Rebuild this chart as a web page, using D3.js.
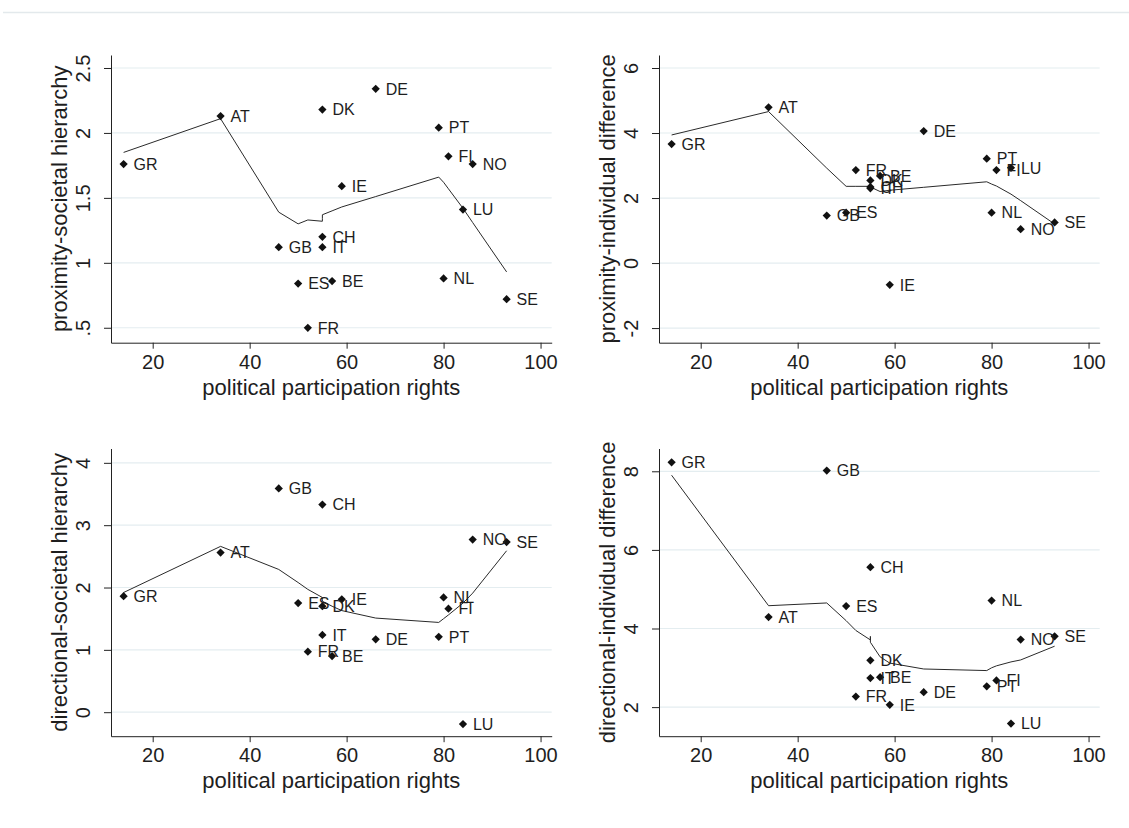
<!DOCTYPE html>
<html>
<head>
<meta charset="utf-8">
<script src="https://cdn.jsdelivr.net/npm/d3@7"></script>
<style>
  body { margin: 0; background: #fff; }
  svg text { font-family: "Liberation Sans", Arial, sans-serif; fill: #1e1e1e; }
</style>
</head>
<body>
<div id="chart"></div>
<script>
// countries, sorted by political participation rights
var countries = ['GR','AT','GB','ES','FR','CH','IT','DK','BE','IE','DE','PT','NL','FI','LU','NO','SE'];
var participation = [14, 34, 46, 50, 52, 55, 55, 55, 57, 59, 66, 79, 80, 81, 84, 86, 93];

var proxSocietal   = [1.76, 2.13, 1.12, 0.84, 0.50, 1.20, 1.12, 2.18, 0.86, 1.59, 2.34, 2.04, 0.88, 1.82, 1.41, 1.76, 0.72];
var proxIndividual = [3.66, 4.79, 1.46, 1.55, 2.86, 2.34, 2.30, 2.54, 2.68, -0.67, 4.06, 3.21, 1.55, 2.86, 2.93, 1.04, 1.25];
var dirSocietal    = [1.86, 2.56, 3.59, 1.75, 0.97, 3.33, 1.24, 1.70, 0.90, 1.81, 1.17, 1.21, 1.84, 1.66, -0.19, 2.77, 2.73];
var dirIndividual  = [8.23, 4.29, 8.02, 4.57, 2.27, 5.56, 2.74, 3.19, 2.76, 2.06, 2.38, 2.53, 4.71, 2.68, 1.58, 3.72, 3.80];

// lowess smooths, same order as participation
var proxSocietalFit   = [1.85, 2.11, 1.39, 1.30, 1.33, 1.32, 1.34, 1.37, 1.40, 1.43, 1.51, 1.66, 1.62, 1.57, 1.42, 1.31, 0.93];
var proxIndividualFit = [3.94, 4.66, 2.92, 2.36, 2.36, 2.36, 2.35, 2.34, 2.20, 2.24, 2.33, 2.50, 2.43, 2.37, 2.12, 1.92, 1.20];
var dirSocietalFit    = [1.92, 2.66, 2.29, 2.08, 1.97, 1.84, 1.81, 1.78, 1.70, 1.63, 1.51, 1.44, 1.50, 1.56, 1.75, 1.91, 2.59];
var dirIndividualFit  = [7.90, 4.58, 4.65, 4.20, 3.95, 3.71, 3.80, 3.65, 3.28, 3.12, 2.97, 2.93, 3.00, 3.05, 3.15, 3.20, 3.55];

var xTicks = [20, 40, 60, 80, 100];
var yTicksPS = [0.5, 1, 1.5, 2, 2.5];
var yTicksPI = [-2, 0, 2, 4, 6];
var yTicksDS = [0, 1, 2, 3, 4];
var yTicksDI = [2, 4, 6, 8];

var xTitle = 'political participation rights';

var panels = [
  { vals: proxSocietal,   fit: proxSocietalFit,   ticks: yTicksPS, title: 'proximity-societal hierarchy',      dom: [0.385, 2.60], col: 0, row: 0 },
  { vals: proxIndividual, fit: proxIndividualFit, ticks: yTicksPI, title: 'proximity-individual difference',   dom: [-2.45, 6.40], col: 1, row: 0 },
  { vals: dirSocietal,    fit: dirSocietalFit,    ticks: yTicksDS, title: 'directional-societal hierarchy',    dom: [-0.385, 4.23], col: 0, row: 1 },
  { vals: dirIndividual,  fit: dirIndividualFit,  ticks: yTicksDI, title: 'directional-individual difference', dom: [1.26, 8.58], col: 1, row: 1 }
];

var W = 1129, H = 828;
var plotW = 440.7, plotH = 287.7;
var left0 = 111, colStep = 548, top0 = 55, rowStep = 393.5;

var fmt = function(d) { return String(d).replace(/^0\./, '.'); };

var svg = d3.select('#chart').append('svg')
  .attr('width', W)
  .attr('height', H);

// faint frame line at the top
svg.append('line')
  .attr('x1', 3).attr('x2', W)
  .attr('y1', 12.5).attr('y2', 12.5)
  .attr('stroke', '#e3e9ec')
  .attr('stroke-width', 1.5);

panels.forEach(function(p) {
  var x0 = left0 + p.col * colStep;
  var y0 = top0 + p.row * rowStep;

  var x = d3.scaleLinear().domain([11.4, 102.3]).range([x0, x0 + plotW]);
  var y = d3.scaleLinear().domain(p.dom).range([y0 + plotH, y0]);

  var g = svg.append('g');

  // gridlines
  g.selectAll('.grid')
    .data(p.ticks)
    .enter().append('line')
    .attr('x1', x0).attr('x2', x0 + plotW)
    .attr('y1', function(d) { return y(d); })
    .attr('y2', function(d) { return y(d); })
    .attr('stroke', '#e4edf0')
    .attr('stroke-width', 1.2);

  // x axis
  var xa = g.append('g')
    .attr('transform', 'translate(0,' + (y0 + plotH) + ')')
    .call(d3.axisBottom(x).tickValues(xTicks).tickSize(6).tickSizeOuter(0).tickPadding(6));
  xa.selectAll('text').attr('font-size', 20).attr('dy', '0.71em');

  // y axis, labels turned like the original
  var ya = g.append('g')
    .attr('transform', 'translate(' + x0 + ',0)')
    .call(d3.axisLeft(y).tickValues(p.ticks).tickSize(7).tickSizeOuter(0).tickFormat(fmt));
  ya.selectAll('text')
    .attr('font-size', 20)
    .attr('text-anchor', 'middle')
    .attr('x', 0).attr('dy', 0)
    .attr('transform', 'translate(-21,0) rotate(-90)');

  g.selectAll('.domain, .tick line').attr('stroke', '#222').attr('stroke-width', 1);

  // axis titles
  g.append('text')
    .attr('x', x0 + plotW / 2)
    .attr('y', y0 + plotH + 52)
    .attr('text-anchor', 'middle')
    .attr('font-size', 22)
    .text(xTitle);

  g.append('text')
    .attr('transform', 'translate(' + (x0 - 44) + ',' + (y0 + plotH / 2) + ') rotate(-90)')
    .attr('text-anchor', 'middle')
    .attr('font-size', 22)
    .text(p.title);

  // lowess line
  var line = d3.line()
    .x(function(d, i) { return x(participation[i]); })
    .y(function(d) { return y(d); });

  g.append('path')
    .datum(p.fit)
    .attr('d', line)
    .attr('fill', 'none')
    .attr('stroke', '#2a2a2a')
    .attr('stroke-width', 1);

  // markers
  g.selectAll('.pt')
    .data(p.vals)
    .enter().append('path')
    .attr('d', d3.symbol(d3.symbolSquare, 34))
    .attr('transform', function(d, i) {
      return 'translate(' + x(participation[i]) + ',' + y(d) + ') rotate(45)';
    })
    .attr('fill', '#111');

  // country labels
  g.selectAll('.lab')
    .data(p.vals)
    .enter().append('text')
    .attr('x', function(d, i) { return x(participation[i]) + 10; })
    .attr('y', function(d) { return y(d); })
    .attr('dy', '0.36em')
    .attr('font-size', 16)
    .text(function(d, i) { return countries[i]; });
});
</script>
</body>
</html>
